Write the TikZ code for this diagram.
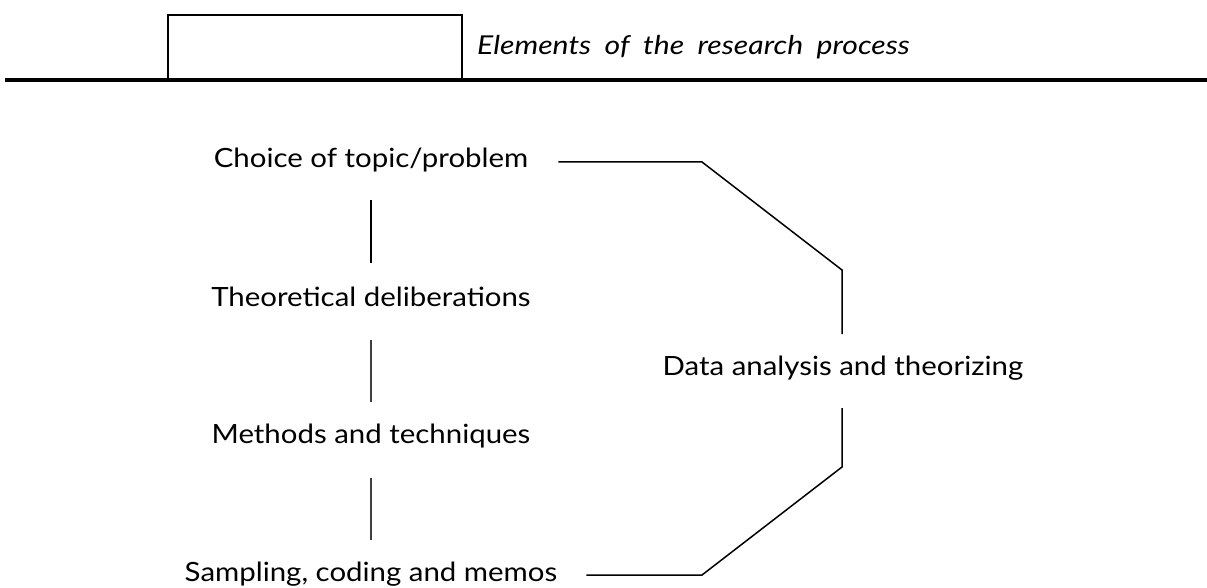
\documentclass[tikz,border=0pt]{standalone}
\usepackage{fontspec}
\setmainfont{Lato}[FakeStretch=1.11]
\newfontfamily\titlefont{Lato}[FakeStretch=1.16, WordSpace=1.9]
\begin{document}
\begin{tikzpicture}[x=1pt,y=-1pt,
  lbl/.style={inner sep=0pt, font=\fontsize{26.5}{30}\selectfont},
  conn/.style={line width=1.5pt, black},
  rule/.style={line width=4pt, black}]
\useasboundingbox (0,0) rectangle (1207,588);
% header
\node[draw, line width=1.8pt, minimum width=294pt, minimum height=64pt, anchor=south west, inner sep=0pt] (box) at (167,80) {};
\node[inner sep=0pt, anchor=base west, font=\titlefont\fontsize{26}{30}\selectfont\itshape] (title) at (477,55) {Elements of the research process};
\draw[rule] (5,80) -- (box.south west) -- (box.south east) -- (1207,80);
% nodes
\node[lbl, anchor=base] (choice) at (371,168) {Choice of topic/problem};
\node[lbl, anchor=base] (theo) at (371,306) {Theoretical deliberations};
\node[lbl, anchor=base] (meth) at (371,443) {Methods and techniques};
\node[lbl, anchor=base] (samp) at (371,581) {Sampling, coding and memos};
\node[lbl, anchor=base] (data) at (843,375) {Data analysis and theorizing};
% left connectors
\draw[conn] (theo |- 0,200) -- (theo |- 0,263);
\draw[conn, black!75] (theo |- 0,340) -- (meth |- 0,402);
\draw[conn, black!75] (meth |- 0,478) -- (meth |- 0,540);
% right connectors
\coordinate (a1) at (702,162);
\coordinate (a2) at (842,270);
\coordinate (a3) at (842,334);
\coordinate (b1) at (702,575);
\coordinate (b2) at (842,467);
\coordinate (b3) at (842,408);
\draw[conn] ([xshift=30pt]choice.east |- 0,162) -- (a1) -- (a2) -- (a3);
\draw[conn] ([xshift=29pt]samp.east |- 0,575) -- (b1) -- (b2) -- (b3);
\end{tikzpicture}
\end{document}
